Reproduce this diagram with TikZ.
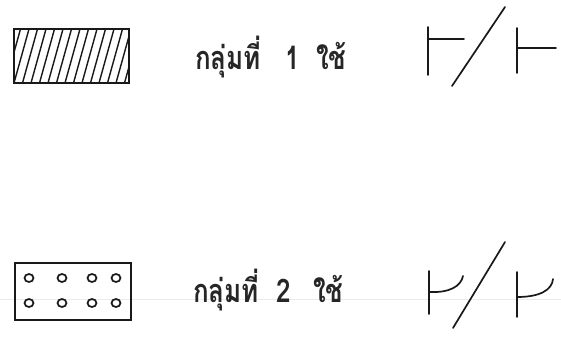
\documentclass[tikz,border=0pt]{standalone}
\usepackage{fontspec}
\usepackage{graphicx}
\newfontfamily\thaifont[Script=Thai]{Loma}
\usetikzlibrary{positioning}
\tikzset{
      symline/.style={line width=1.7pt, line cap=round, black!90},
      legendbox/.style={draw=black!90, line width=1.8pt, inner sep=0pt},
      grouplabel/.style={font=\thaifont\bfseries\fontsize{25}{30}\selectfont, anchor=base west, inner sep=0pt, black!85}
    }
\newcommand{\tallthai}[1]{\scalebox{1.04}[1.3]{#1}}
\begin{document}
\begin{tikzpicture}[x=1pt,y=-1pt]
    \useasboundingbox (0,0) rectangle (561,339);
    % faint scan line
    \draw[black!8, line width=0.8pt] (0,299) -- (561,299);
    % group 1: hatched box
    \begin{scope}
      \clip (14,29) rectangle (129,83);
      \foreach \i in {-2,...,14}
        \draw[line width=1.4pt, black!90] (14+\i*8.5,83) -- ++(15,-54);
    \end{scope}
    \node[legendbox, minimum width=115pt, minimum height=54pt] (box1) at (71.5,56) {};
    \node[grouplabel] (word1) at (195,70) {\tallthai{กลุ่มที่}};
    \node[grouplabel] (num1) at (285,70) {\tallthai{1}};
    \node[grouplabel] (use1) at (316,70) {\tallthai{ใช้}};
    % group 1: contact symbol
    \draw[symline] (428,27) -- (428,75);
    \draw[symline] (428,39) -- (464,39);
    \draw[symline] (452,86) -- (505,7);
    \draw[symline] (517,28) -- (517,73);
    \draw[symline] (517,48) -- (556,48);
    % group 2: dotted box
    \node[legendbox, minimum width=116pt, minimum height=57pt] (box2) at (73,291.5) {};
    \foreach \x in {29,62,92,116}
      \foreach \y in {278,303}
        \draw[line width=1.7pt, black!90] (\x,\y) ellipse (4.5 and 4);
    \node[grouplabel] (word2) at (193,302) {\tallthai{กลุ่มที่}};
    \node[grouplabel] (num2) at (276,302) {\tallthai{2}};
    \node[grouplabel] (use2) at (313,302) {\tallthai{ใช้}};
    % group 2: contact symbol
    \draw[symline] (429,271) -- (429,314);
    \draw[symline] (429,292) .. controls (450,293) and (461,286) .. (463,276);
    \draw[symline] (453,328) -- (505,242);
    \draw[symline] (517,272) -- (517,317);
    \draw[symline] (517,297) .. controls (540,297) and (552,290) .. (553,279);
\end{tikzpicture}
\end{document}
